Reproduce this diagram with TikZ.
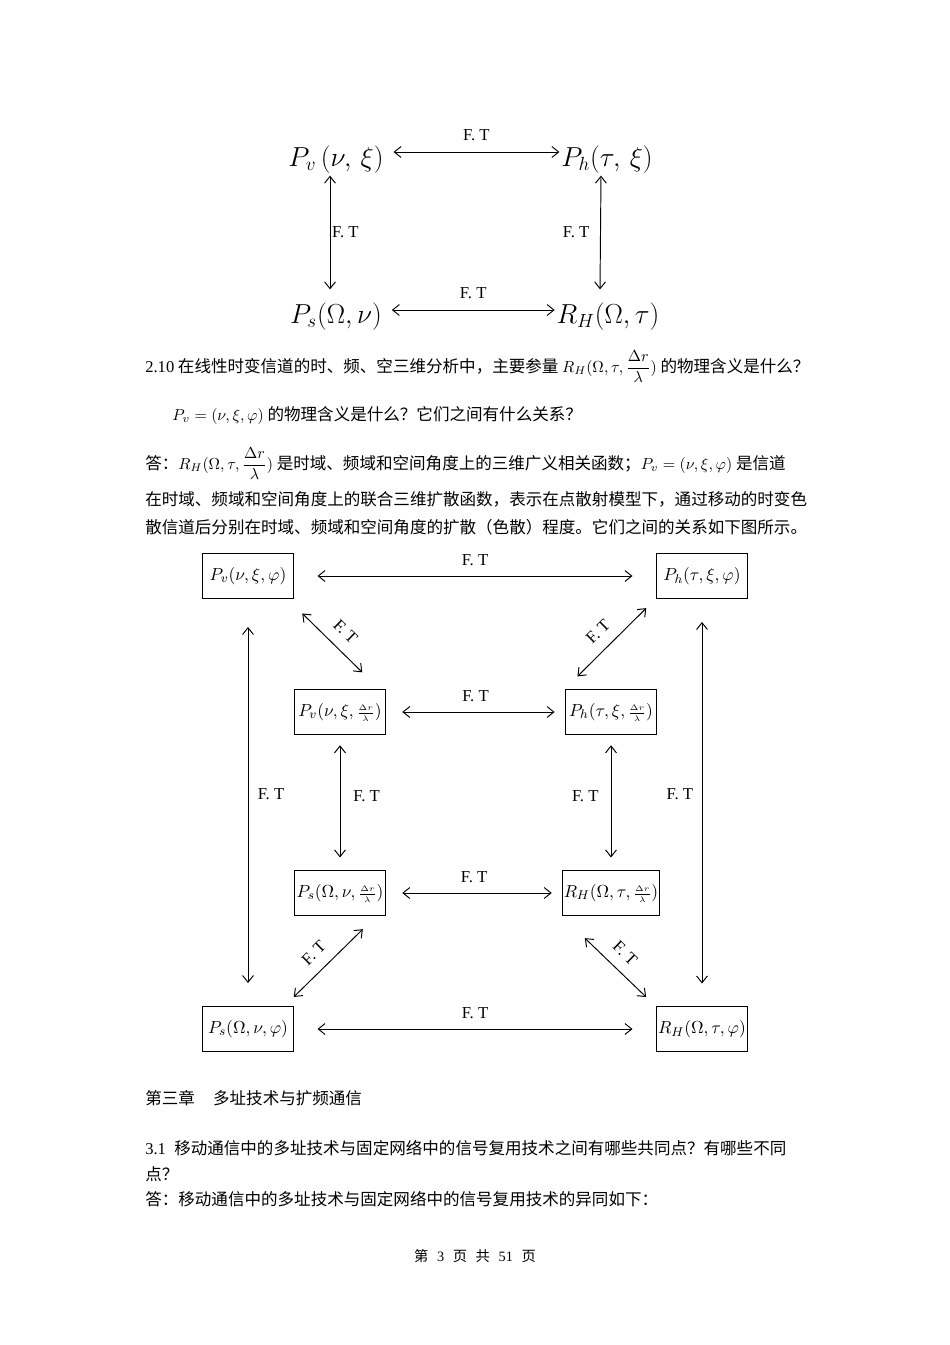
\documentclass[tikz,border=0pt]{standalone}
\usepackage[no-math]{fontspec}
\setmainfont{Liberation Serif}
\newfontfamily\cjk{Noto Sans CJK SC}
\usepackage{amsmath}
\usetikzlibrary{positioning, arrows.meta, calc}

\begin{document}
\begin{tikzpicture}[
    x=0.0221cm, y=-0.0221cm,
    txt/.style={anchor=base west, inner sep=0pt, font=\cjk\fontsize{10.4}{12}\selectfont},
    big/.style={inner sep=1pt, font=\LARGE},
    funcbox/.style={rectangle, draw, line width=0.6pt, minimum width=2.03cm, minimum height=0.99cm, inner sep=1pt, font=\fontsize{11}{13}\selectfont},
    arrow/.style={{Straight Barb[length=1.5mm, width=2.4mm]}-{Straight Barb[length=1.5mm, width=2.4mm]}, line width=0.6pt},
    ftlabel/.style={font=\fontsize{10.5}{12}\selectfont, inner sep=1pt},
    diaglabel/.style={ftlabel, sloped, above, inner sep=7pt},
]

% Page
\fill[white] (0,0) rectangle (950,1345);
\useasboundingbox (0,0) rectangle (950,1345);

% Small diagram
\node[big] (pv) at (336,160) {$P_v\,(\nu,\,\xi)$};
\node[big] (ph) at (607,160) {$P_h(\tau,\,\xi)$};
\node[big] (ps) at (336,317) {$P_s(\Omega,\nu)$};
\node[big] (rh) at (608,317) {$R_H(\Omega,\tau)$};

\draw[arrow] ($(pv.east)+(8,-8)$) -- node[ftlabel, above=0.2cm] (t1) {F. T} ($(ph.west)+(0,-8)$);
\draw[arrow] ($(ps.east)+(8,-7)$) -- node[ftlabel, above=0.2cm] (t2) {F. T} ($(rh.west)+(0,-7)$);
\draw[arrow] ($(pv.south)+(-6,0)$) -- node[ftlabel, right] (t3) {F. T} ($(ps.north)+(-6,-12)$);
\draw[arrow] ($(ph.south)+(-6,0)$) -- node[ftlabel, left=0.2cm] (t4) {F. T} ($(rh.north)+(-8,-12)$);

% Question 2.10
\node[txt] (q1) at (145,372) {{\rmfamily 2.10} 在线性时变信道的时、频、空三维分析中，主要参量 $R_H(\Omega,\tau,\dfrac{\Delta r}{\lambda})$ 的物理含义是什么？};
\node[txt] (q2) at (172,420) {$P_v=(\nu,\xi,\varphi)$ 的物理含义是什么？它们之间有什么关系？};
\node[txt] (a1) at (145,469) {答：$R_H(\Omega,\tau,\dfrac{\Delta r}{\lambda})$ 是时域、频域和空间角度上的三维广义相关函数；$P_v=(\nu,\xi,\varphi)$ 是信道};
\node[txt] (a2) at (145,505) {在时域、频域和空间角度上的联合三维扩散函数，表示在点散射模型下，通过移动的时变色};
\node[txt] (a3) at (145,533) {散信道后分别在时域、频域和空间角度的扩散（色散）程度。它们之间的关系如下图所示。};

% Large diagram
\node[funcbox] (pvphi) at (248,576) {$P_v(\nu,\xi,\varphi)$};
\node[funcbox] (phphi) at (702,576) {$P_h(\tau,\xi,\varphi)$};
\node[funcbox] (pvr) at (340,712) {$P_v(\nu,\xi,{\scriptstyle\frac{\Delta r}{\lambda}})$};
\node[funcbox] (phr) at (611,712) {$P_h(\tau,\xi,{\scriptstyle\frac{\Delta r}{\lambda}})$};
\node[funcbox] (psr) at (340,893) {$P_s(\Omega,\nu,{\scriptstyle\frac{\Delta r}{\lambda}})$};
\node[funcbox] (rhr) at (611,893) {$R_H(\Omega,\tau,{\scriptstyle\frac{\Delta r}{\lambda}})$};
\node[funcbox] (psphi) at (248,1029) {$P_s(\Omega,\nu,\varphi)$};
\node[funcbox] (rhphi) at (702,1029) {$R_H(\Omega,\tau,\varphi)$};

%% === Arrows ===

% Horizontal
\draw[arrow, shorten <=0.51cm, shorten >=0.51cm] (pvphi) -- node[ftlabel, above=0.18cm] (h1) {F. T} (phphi);
\draw[arrow, shorten <=0.35cm, shorten >=0.22cm] (pvr) -- node[ftlabel, above=0.18cm] (h2) {F. T} (phr);
\draw[arrow, shorten <=0.35cm, shorten >=0.22cm] (psr) -- node[ftlabel, above=0.18cm] (h3) {F. T} (rhr);
\draw[arrow, shorten <=0.51cm, shorten >=0.51cm] (psphi) -- node[ftlabel, above=0.18cm] (h4) {F. T} (rhphi);

% Vertical
\draw[arrow, shorten <=0.62cm, shorten >=0.51cm] (pvphi) -- node[ftlabel, right=0.17cm, pos=0.48] (v1) {F. T} (psphi);
\draw[arrow, shorten <=0.51cm, shorten >=0.5cm] (phphi) -- node[ftlabel, left=0.15cm, pos=0.48] (v2) {F. T} (rhphi);
\draw[arrow, shorten <=0.23cm, shorten >=0.28cm] (pvr) -- node[ftlabel, right=0.25cm, pos=0.45] (v3) {F. T} (psr);
\draw[arrow, shorten <=0.23cm, shorten >=0.28cm] (phr) -- node[ftlabel, left=0.23cm, pos=0.45] (v4) {F. T} (rhr);

% Diagonal
\draw[arrow, shorten <=0.46cm, shorten >=0.53cm] ($(pvphi.south east)+(-7,0)$) -- node[diaglabel] (d1) {F. T} ($(pvr.north east)+(-7,0)$);
\draw[arrow, shorten <=0.29cm, shorten >=0.4cm] (phphi.south west) -- node[diaglabel] (d2) {F. T} (phr.north west);
\draw[arrow, shorten <=0.42cm, shorten >=0.29cm] ($(psr.south east)+(-10,0)$) -- node[diaglabel, pos=0.55] (d3) {F. T} ($(psphi.north east)+(-10,0)$);
\draw[arrow, shorten <=0.71cm, shorten >=0.29cm] (rhr.south west) -- node[diaglabel, pos=0.55] (d4) {F. T} (rhphi.north west);

% Chapter 3
\node[txt] (ch3) at (145,1104) {第三章\hspace{1.1em}多址技术与扩频通信};
\node[txt] (q31) at (145,1154) {{\rmfamily 3.1}\hspace{0.5em}移动通信中的多址技术与固定网络中的信号复用技术之间有哪些共同点？有哪些不同};
\node[txt] (q31b) at (145,1180) {点？};
\node[txt] (a31) at (145,1205) {答：移动通信中的多址技术与固定网络中的信号复用技术的异同如下：};

% Footer
\node[txt, anchor=base, font=\cjk\fontsize{9}{11}\selectfont] (foot) at (475,1261) {第\hspace{0.6em}{\rmfamily 3}\hspace{0.6em}页\hspace{0.6em}共\hspace{0.6em}{\rmfamily 51}\hspace{0.6em}页};

\end{tikzpicture}
\end{document}
